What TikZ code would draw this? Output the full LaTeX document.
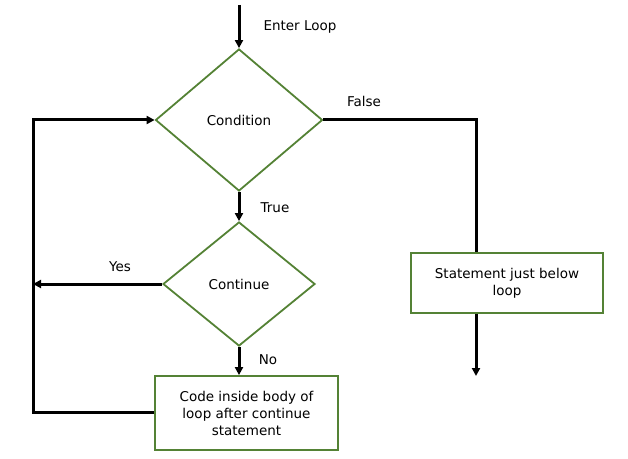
\documentclass[tikz,border=0pt]{standalone}
\usepackage{fontspec}
\setmainfont{DejaVu Sans}
\usetikzlibrary{shapes.geometric,arrows.meta}
\definecolor{boxgreen}{RGB}{84,130,53}
\begin{document}
\begin{tikzpicture}[x=1pt,y=1pt,
  font=\fontsize{13.5}{17}\selectfont,
  dec/.style={diamond,draw=boxgreen,line width=1.8pt,inner sep=0pt},
  proc/.style={rectangle,draw=boxgreen,line width=1.8pt,align=center,inner sep=2pt},
  flow/.style={line width=3pt,-{Triangle[length=8pt,width=8pt]}},
  plain/.style={line width=3pt},
  lbl/.style={inner sep=0pt}]
\useasboundingbox (0,0) rectangle (628,458);
\node[dec,minimum width=167pt,minimum height=142pt] (cond) at (239,338) {Condition};
\node[dec,minimum width=152pt,minimum height=124pt] (cont) at (239,174) {Continue};
\node[proc,minimum width=183pt,minimum height=74pt] (code) at (246.5,45) {Code inside body of\\loop after continue\\statement};
\node[proc,minimum width=192pt,minimum height=60pt] (stmt) at (507,175) {Statement just below\\loop};
\coordinate (start) at (239,453);
\coordinate (fcorner) at (476,338);
\coordinate (fin) at (476,82);
\coordinate (yesend) at (33,174);
\coordinate (lcorner) at (33,46);
\node[lbl] (enter) at (300,431) {Enter Loop};
\node[lbl] (false) at (364,357) {False};
\node[lbl] (true) at (275,250) {True};
\node[lbl] (yes) at (120,191) {Yes};
\node[lbl] (no) at (268,98) {No};
\draw[flow] (start) -- (cond.north);
\draw[plain] (cond.east) -- (fcorner) -- (stmt.north -| fcorner);
\draw[flow] (stmt.south -| fcorner) -- (fin);
\draw[flow] (cond.south) -- (cont.north);
\draw[flow] (cont.west) -- (yesend);
\draw[flow] (cont.south) -- (code.north -| cont.south);
\draw[flow] (code.west |- lcorner) -- (lcorner) |- (cond.west);
\end{tikzpicture}
\end{document}
